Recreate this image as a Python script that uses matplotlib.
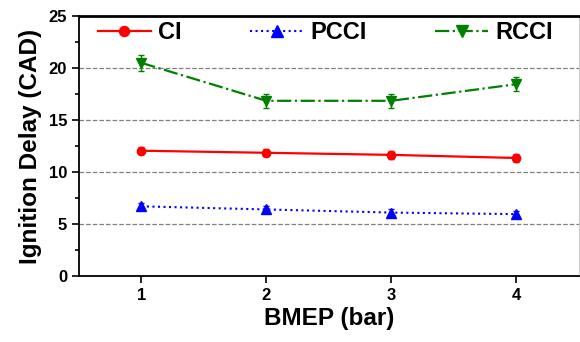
import matplotlib.pyplot as plt

plt.rcParams['font.family'] = ['Liberation Sans', 'DejaVu Sans']
plt.rcParams['font.weight'] = 'bold'

bmep = [1, 2, 3, 4]
ci = [12.05, 11.85, 11.65, 11.35]
ci_err = [0.35, 0.35, 0.35, 0.35]
pcci = [6.7, 6.4, 6.1, 5.95]
pcci_err = [0.3, 0.3, 0.3, 0.3]
rcci = [20.5, 16.85, 16.85, 18.45]
rcci_err = [0.75, 0.65, 0.65, 0.7]

fig = plt.figure(figsize=(5.8, 3.42), dpi=100)
ax = fig.add_axes([0.136, 0.193, 0.862, 0.760])

e1 = ax.errorbar(bmep, ci, yerr=ci_err, color='red', ls='-', lw=1.6, marker='o', ms=6,
                 capsize=2.5, elinewidth=1)
e2 = ax.errorbar(bmep, pcci, yerr=pcci_err, color='blue', ls=':', lw=1.5, marker='^', ms=7,
                 capsize=2.5, elinewidth=1)
e3 = ax.errorbar(bmep, rcci, yerr=rcci_err, color='green', ls='-.', lw=1.6, marker='v', ms=7,
                 capsize=2.5, elinewidth=1)

ax.set_xlim(0.5, 4.5)
ax.set_ylim(0, 25)
ax.set_xticks(bmep)
ax.set_yticks([0, 5, 10, 15, 20, 25])
ax.set_yticks([2.5, 7.5, 12.5, 17.5, 22.5], minor=True)
ax.tick_params(axis='both', labelsize=12, width=1.2, length=5)
ax.tick_params(axis='y', which='minor', width=1.2, length=3)
for y in [5, 10, 15, 20]:
    ax.axhline(y, color='gray', ls='--', lw=0.9, zorder=0)

ax.spines['top'].set_linewidth(2)
ax.spines['left'].set_linewidth(1.3)
ax.spines['bottom'].set_linewidth(1.3)
ax.spines['right'].set_color('#cccccc')

ax.set_xlabel('BMEP (bar)', fontsize=17.5, fontweight='bold', labelpad=3)
ax.set_ylabel('Ignition Delay (CAD)', fontsize=17.5, fontweight='bold', labelpad=5)

ax.legend([e1.lines[0], e2.lines[0], e3.lines[0]], ['CI', 'PCCI', 'RCCI'],
          loc='center left', bbox_to_anchor=(0.038, 0.935), ncol=3, frameon=False,
          prop={'size': 17, 'weight': 'bold'}, handlelength=2.25, columnspacing=2.9,
          handletextpad=0.3, borderpad=0, borderaxespad=0, numpoints=1, markerscale=1.2)

fig.savefig('out.png', dpi=100)
